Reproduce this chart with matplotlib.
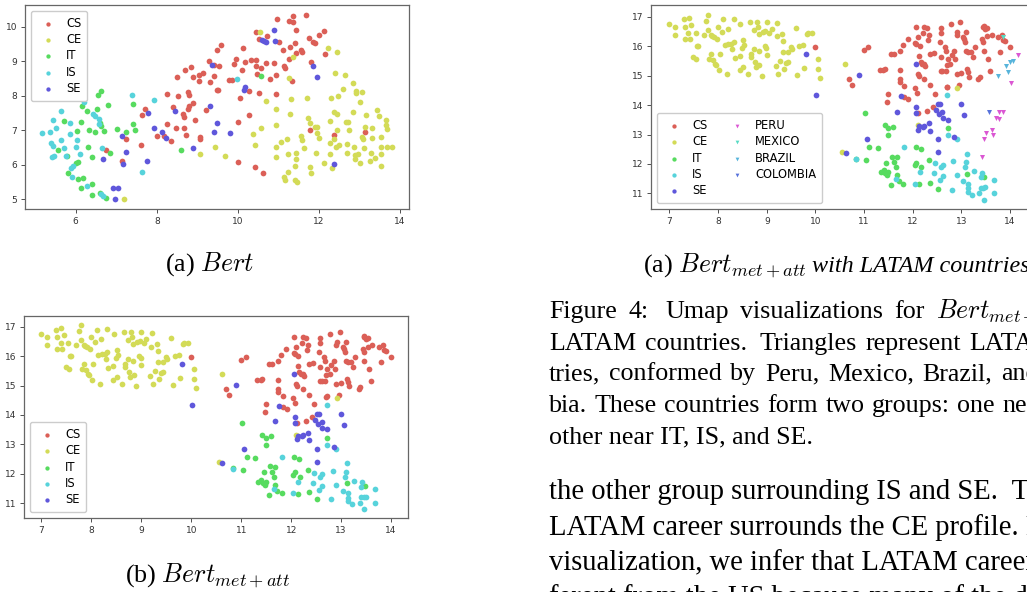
import numpy as np
import matplotlib
matplotlib.use('Agg')
import matplotlib.pyplot as plt

plt.rcParams['mathtext.fontset'] = 'cm'

W, H = 1027, 592

# ---------------- data: Bert ----------------
bert_cs = [(6.75, 6.42), (7.13, 6.11), (7.23, 6.76), (7.71, 7.63), (7.64, 7.44), (7.61, 6.57), (8.0, 6.84),
           (8.18, 6.84), (8.25, 8.05), (8.25, 7.18), (8.36, 6.69), (8.39, 7.68), (8.47, 7.08), (8.51, 8.53),
           (8.53, 7.99), (8.65, 7.46), (8.66, 7.39), (8.66, 7.07), (8.70, 8.76), (8.71, 6.86), (8.76, 8.12),
           (8.79, 8.02), (8.79, 7.70), (8.77, 7.62), (8.85, 8.84), (8.89, 7.80), (8.89, 8.55), (8.94, 7.30),
           (9.03, 8.43), (9.04, 8.61), (9.07, 6.81), (9.07, 6.76), (9.15, 8.67), (9.22, 7.59), (9.29, 9.01),
           (9.31, 8.40), (9.40, 8.89), (9.41, 8.57), (9.48, 9.32), (9.48, 8.17), (9.52, 8.17), (9.54, 8.86),
           (9.59, 9.48), (9.77, 8.47), (9.85, 8.46), (9.91, 8.92), (9.96, 9.08), (10.0, 7.25), (10.0, 6.09),
           (10.05, 7.95), (10.11, 8.75), (10.13, 9.37), (10.17, 8.97), (10.28, 7.45), (10.27, 8.14),
           (10.33, 9.03), (10.43, 5.93), (10.45, 9.03), (10.44, 8.86), (10.45, 9.84), (10.47, 8.63),
           (10.52, 8.09), (10.51, 9.65), (10.61, 5.77), (10.58, 8.80), (10.69, 8.94), (10.73, 9.74),
           (10.78, 8.50), (10.88, 8.94), (10.93, 8.60), (10.94, 8.05), (10.97, 10.22), (11.02, 9.55),
           (11.11, 9.32), (11.14, 8.86), (11.15, 8.81), (11.25, 10.16), (11.25, 9.08), (11.29, 9.40),
           (11.33, 8.44), (11.35, 10.31), (11.37, 10.15), (11.40, 9.54), (11.43, 9.90), (11.44, 9.23),
           (11.56, 9.32), (11.57, 9.28), (11.67, 10.35), (11.75, 9.66), (11.78, 7.01), (11.81, 8.97),
           (11.85, 9.57), (11.90, 9.52), (12.0, 9.76), (12.13, 9.88), (12.15, 9.21), (12.38, 6.86),
           (13.14, 6.94)]
bert_ce = [(10.54, 9.85), (11.35, 9.11), (12.23, 9.39), (12.44, 9.27), (11.25, 8.51), (11.31, 7.90),
           (11.29, 7.46), (10.70, 7.86), (10.57, 7.08), (10.38, 6.88), (10.41, 6.57), (10.93, 7.62),
           (10.94, 7.16), (11.07, 6.65), (10.94, 6.53), (10.94, 6.24), (11.21, 6.74), (11.23, 6.32),
           (11.14, 5.66), (11.16, 5.56), (11.23, 5.80), (11.40, 5.97), (11.41, 5.56), (11.46, 5.51),
           (11.43, 6.35), (11.43, 6.16), (11.55, 6.84), (11.59, 6.72), (11.63, 6.50), (11.70, 7.94),
           (11.74, 7.35), (11.78, 7.20), (11.78, 5.93), (11.80, 5.77), (11.90, 7.09), (11.95, 7.09),
           (11.95, 6.93), (11.93, 6.33), (11.99, 6.79), (12.13, 6.04), (12.26, 7.28), (12.26, 6.62),
           (12.27, 6.30), (12.30, 7.95), (12.33, 5.90), (12.36, 7.52), (12.38, 6.74), (12.40, 8.65),
           (12.41, 6.51), (12.44, 7.48), (12.44, 7.01), (12.46, 7.99), (12.49, 6.57), (12.59, 8.21),
           (12.63, 8.59), (12.66, 7.25), (12.69, 6.35), (12.69, 6.60), (12.71, 7.25), (12.75, 7.01),
           (12.83, 8.38), (12.83, 7.52), (12.86, 6.53), (12.89, 6.28), (12.90, 6.16), (12.92, 8.15),
           (12.92, 8.07), (12.97, 6.31), (13.0, 6.04), (13.01, 7.83), (13.06, 6.81), (13.07, 8.12),
           (13.10, 6.48), (13.08, 6.74), (13.14, 7.09), (13.16, 7.44), (13.25, 6.11), (13.28, 6.33),
           (13.30, 7.06), (13.30, 6.79), (13.37, 6.21), (13.44, 7.59), (13.48, 7.41), (13.53, 6.31),
           (13.54, 6.53), (13.54, 5.97), (13.54, 6.80), (13.65, 7.30), (13.65, 7.14), (13.67, 7.03),
           (13.67, 6.53), (13.80, 6.53), (9.44, 6.53), (9.67, 6.26), (9.07, 6.30), (7.18, 5.0)]
bert_it = [(6.13, 8.0), (6.62, 8.14), (6.54, 8.02), (6.79, 7.73), (6.16, 7.70), (6.52, 7.61), (6.29, 7.55),
           (5.70, 7.26), (6.12, 7.24), (6.60, 7.22), (6.62, 7.12), (6.69, 6.99), (6.33, 7.01), (6.47, 6.96),
           (6.04, 6.99), (7.02, 7.03), (7.23, 6.96), (7.42, 7.75), (7.42, 7.19), (7.46, 7.02), (6.31, 6.52),
           (5.57, 6.43), (5.78, 6.25), (6.41, 6.23), (6.85, 6.35), (6.02, 6.06), (6.06, 6.07), (5.81, 5.75),
           (6.05, 5.59), (6.19, 5.63), (6.12, 5.34), (6.41, 5.45), (6.39, 5.14), (6.60, 5.18), (6.75, 5.05),
           (8.60, 6.44), (10.56, 8.58)]
bert_is = [(5.17, 6.93), (5.37, 6.94), (5.63, 7.55), (5.45, 7.29), (5.51, 7.06), (5.65, 6.72), (5.70, 6.48),
           (5.38, 6.62), (5.43, 6.55), (5.41, 6.24), (5.46, 6.25), (5.75, 6.25), (5.86, 7.22), (5.87, 6.89),
           (5.89, 5.92), (5.90, 5.66), (5.94, 5.97), (6.0, 6.53), (6.04, 6.72), (6.11, 6.31), (6.21, 7.83),
           (6.27, 5.39), (6.42, 7.47), (6.48, 7.41), (6.58, 7.32), (6.58, 7.17), (6.64, 6.50), (6.62, 5.16),
           (6.68, 5.11), (7.38, 8.02), (7.63, 5.80), (7.92, 7.88), (9.99, 8.50), (5.93, 8.03)]
bert_se = [(6.93, 5.34), (7.05, 5.32), (6.97, 5.0), (7.16, 6.01), (7.13, 6.83), (7.24, 6.38), (6.67, 6.16),
           (7.75, 6.11), (7.78, 7.49), (7.94, 7.06), (8.12, 6.94), (8.22, 6.77), (8.45, 7.57), (8.89, 6.48),
           (9.31, 7.71), (9.37, 8.89), (9.42, 6.96), (9.49, 7.20), (9.81, 6.91), (10.14, 8.17), (10.18, 8.24),
           (10.59, 9.61), (10.65, 9.59), (10.69, 9.55), (10.88, 9.92), (10.92, 9.59), (11.86, 8.86),
           (11.95, 8.55), (12.38, 6.01)]

# ---------------- data: Bert met+att ----------------
att_cs = [(9.99, 15.96), (10.69, 14.88), (10.76, 14.68), (10.99, 15.87), (11.09, 15.96), (11.32, 15.18),
          (11.39, 15.18), (11.42, 15.21), (11.49, 14.38), (11.48, 14.09), (11.56, 15.74), (11.61, 15.72),
          (11.74, 15.84), (11.73, 15.20), (11.73, 14.90), (11.73, 14.79), (11.83, 14.66), (11.80, 16.03),
          (11.83, 14.28), (11.91, 14.21), (11.90, 16.26), (12.06, 16.65), (12.04, 14.58), (12.08, 14.42),
          (12.05, 16.12), (12.07, 16.07), (12.10, 16.31), (12.12, 14.98), (12.10, 15.07), (12.13, 15.68),
          (12.16, 15.47), (12.19, 15.38), (12.14, 16.00), (12.11, 13.72), (12.21, 16.46), (12.24, 16.64),
          (12.30, 16.63), (12.24, 14.88), (12.23, 15.41), (12.25, 15.34), (12.29, 13.81), (12.31, 16.21),
          (12.34, 16.38), (12.35, 15.75), (12.36, 14.68), (12.41, 13.94), (12.43, 15.78), (12.46, 14.37),
          (12.56, 16.14), (12.58, 16.63), (12.58, 16.46), (12.58, 15.62), (12.58, 15.17), (12.61, 15.17),
          (12.66, 15.96), (12.68, 15.85), (12.68, 15.15), (12.70, 14.60), (12.71, 14.63), (12.70, 15.37),
          (12.72, 15.58), (12.77, 15.41), (12.78, 16.74), (12.80, 15.70), (12.85, 15.83), (12.87, 15.55),
          (12.90, 15.05), (12.90, 16.38), (12.92, 16.47), (12.96, 14.68), (12.98, 16.83), (12.99, 15.10),
          (13.03, 16.30), (13.05, 16.26), (13.08, 16.15), (13.10, 16.47), (13.10, 15.83), (13.11, 15.24),
          (13.14, 15.79), (13.13, 15.13), (13.16, 14.97), (13.19, 15.79), (13.23, 15.62), (13.28, 15.98),
          (13.35, 14.88), (13.38, 14.95), (13.45, 16.65), (13.46, 16.69), (13.43, 16.26), (13.45, 16.13),
          (13.46, 15.83), (13.49, 16.60), (13.53, 16.63), (13.53, 16.33), (13.55, 15.58), (13.59, 15.17),
          (13.62, 16.38), (13.76, 16.31), (13.80, 15.81), (13.83, 16.37), (13.86, 16.20), (13.89, 16.19),
          (13.99, 15.96)]
att_ce = [(6.99, 16.74), (7.11, 16.65), (7.11, 16.38), (7.29, 16.91), (7.31, 16.65), (7.31, 16.25),
          (7.40, 16.97), (7.39, 16.46), (7.42, 16.25), (7.45, 16.72), (7.49, 15.63), (7.55, 15.57),
          (7.54, 16.46), (7.57, 16.0), (7.59, 16.0), (7.70, 16.38), (7.75, 16.86), (7.80, 17.06),
          (7.79, 16.56), (7.85, 16.38), (7.85, 15.74), (7.82, 15.55), (7.87, 16.34), (7.89, 15.52),
          (7.92, 16.30), (7.94, 15.41), (7.97, 16.26), (7.96, 15.36), (8.0, 16.66), (8.01, 15.18),
          (8.04, 15.72), (8.07, 16.48), (8.11, 16.91), (8.14, 16.04), (8.18, 15.04), (8.20, 16.60),
          (8.21, 16.07), (8.27, 16.09), (8.29, 15.89), (8.32, 16.94), (8.32, 16.15), (8.34, 15.61),
          (8.44, 15.66), (8.45, 16.77), (8.44, 15.20), (8.49, 15.95), (8.52, 16.22), (8.53, 16.04),
          (8.52, 15.29), (8.62, 15.05), (8.65, 16.83), (8.67, 15.72), (8.68, 15.64), (8.73, 15.92),
          (8.74, 16.56), (8.76, 15.46), (8.77, 15.30), (8.80, 16.83), (8.82, 16.64), (8.84, 16.41),
          (8.84, 15.83), (8.85, 15.36), (8.90, 15.0), (8.92, 16.47), (8.96, 16.01), (8.97, 16.52),
          (8.99, 15.95), (9.0, 16.82), (9.0, 15.70), (9.05, 16.46), (9.10, 16.60), (9.18, 15.32),
          (9.22, 16.79), (9.20, 16.33), (9.24, 15.07), (9.27, 15.50), (9.32, 16.43), (9.34, 16.18),
          (9.34, 15.80), (9.35, 15.22), (9.40, 15.44), (9.44, 15.47), (9.44, 15.80), (9.50, 15.98),
          (9.52, 15.92), (9.60, 16.63), (9.63, 15.02), (9.67, 16.01), (9.75, 16.04), (9.77, 15.27),
          (9.83, 16.42), (9.85, 16.45), (9.93, 16.46), (10.06, 15.56), (10.09, 14.93), (10.06, 15.23),
          (10.61, 15.41), (10.55, 12.41), (12.10, 13.32), (12.92, 14.57)]
att_it = [(11.02, 13.74), (11.42, 13.31), (11.50, 13.21), (11.60, 13.27), (11.50, 12.99), (11.11, 12.57),
          (11.28, 12.53), (11.03, 12.14), (10.84, 12.18), (11.58, 12.25), (11.68, 12.24), (11.45, 12.04),
          (11.62, 12.07), (11.65, 11.89), (11.34, 11.71), (11.40, 11.78), (11.44, 11.69), (11.48, 11.61),
          (11.50, 11.71), (11.67, 11.61), (11.56, 11.28), (11.71, 11.41), (11.81, 11.33), (12.06, 12.57),
          (12.16, 12.50), (12.04, 11.96), (12.07, 12.04), (12.18, 11.88), (12.13, 11.32), (12.34, 12.13),
          (12.36, 11.37), (12.51, 11.15), (12.72, 13.22), (13.11, 11.67), (13.47, 11.57)]
att_is = [(12.71, 14.34), (12.72, 12.97), (12.90, 12.84), (11.82, 12.58), (10.83, 12.16), (11.66, 11.48),
          (12.04, 11.33), (12.14, 11.71), (12.46, 12.02), (12.44, 11.68), (12.58, 11.90), (12.62, 11.98),
          (12.56, 11.45), (12.62, 11.59), (12.80, 11.13), (12.83, 12.10), (12.90, 11.61), (13.03, 11.42),
          (13.07, 11.90), (13.10, 12.07), (13.11, 12.35), (13.13, 11.33), (13.13, 11.17), (13.14, 11.06),
          (13.21, 10.96), (13.26, 11.76), (13.37, 11.00), (13.40, 11.56), (13.42, 11.70), (13.40, 11.19),
          (13.45, 11.20), (13.46, 10.79), (13.49, 11.22), (13.67, 11.00), (13.68, 11.47)]
att_se = [(9.81, 15.74), (10.02, 14.33), (10.90, 15.01), (10.62, 12.36), (11.05, 12.84), (11.68, 13.78),
          (11.76, 14.32), (12.06, 15.40), (12.07, 13.93), (12.07, 13.74), (12.11, 13.17), (12.13, 13.29),
          (12.21, 13.27), (12.24, 13.30), (12.34, 13.38), (12.36, 13.13), (12.47, 13.82), (12.51, 14.02),
          (12.56, 14.04), (12.54, 13.70), (12.61, 13.75), (12.62, 13.57), (12.72, 13.51), (12.51, 12.84),
          (12.51, 12.41), (12.85, 12.92), (12.99, 14.03), (13.05, 13.67)]

# LATAM countries (triangles)
peru = [(14.16, 15.69), (14.01, 14.75), (13.77, 13.76), (13.86, 13.76), (13.71, 13.57), (13.78, 13.53),
        (13.63, 13.17), (13.51, 13.04), (13.66, 12.99), (13.47, 12.86), (13.43, 12.22)]
mexico = [(13.86, 16.30)]
brazil = [(14.0, 15.47), (14.06, 15.49), (13.92, 15.33), (13.95, 15.13), (13.75, 15.0)]
colombia = [(13.57, 13.77)]

careers = ['CS', 'CE', 'IT', 'IS', 'SE']
career_colors = ['#db5f57', '#d3db57', '#57db5f', '#57d3db', '#5f57db']
countries = ['PERU', 'MEXICO', 'BRAZIL', 'COLOMBIA']
country_colors = ['#db57d3', '#57dbc4', '#57b4db', '#5772db']


def px_axes(fig, l, t, r, b):
    return fig.add_axes([l / W, 1 - b / H, (r - l) / W, (b - t) / H])


def style(ax, xlim, ylim, xticks, yticks):
    ax.set_xlim(*xlim)
    ax.set_ylim(*ylim)
    ax.set_xticks(xticks)
    ax.set_yticks(yticks)
    ax.tick_params(labelsize=6.5, length=3, width=0.6, colors='#333333', pad=2.5)
    for sp in ax.spines.values():
        sp.set_color('#666666')
        sp.set_linewidth(0.9)


def scatter_careers(ax, groups):
    for pts, name, c in zip(groups, careers, career_colors):
        a = np.array(pts)
        ax.scatter(a[:, 0], a[:, 1], s=17, color=c, linewidths=0, label=name)


fig = plt.figure(figsize=(W / 100, H / 100), dpi=100)

leg_kw = dict(fontsize=8.3, markerscale=0.75, handletextpad=0.55, borderpad=0.5,
              labelspacing=0.3, framealpha=1, edgecolor='#cccccc')

# (a) Bert
ax1 = px_axes(fig, 25, 5, 409, 209)
scatter_careers(ax1, [bert_cs, bert_ce, bert_it, bert_is, bert_se])
style(ax1, (4.75, 14.22), (4.72, 10.63), [6, 8, 10, 12, 14], [5, 6, 7, 8, 9, 10])
ax1.legend(loc='upper left', **leg_kw)

# (b) Bert met+att
ax3 = px_axes(fig, 24, 316, 408, 518)
scatter_careers(ax3, [att_cs, att_ce, att_it, att_is, att_se])
style(ax3, (6.65, 14.34), (10.49, 17.37), range(7, 15), range(11, 18))
ax3.legend(loc='lower left', **leg_kw)

# (a) with LATAM countries
ax2 = px_axes(fig, 651, 5, 1029, 209)
scatter_careers(ax2, [att_cs, att_ce, att_it, att_is, att_se])
for pts, name, c in zip([peru, mexico, brazil, colombia], countries, country_colors):
    a = np.array(pts)
    ax2.scatter(a[:, 0], a[:, 1], s=13, marker='v', color=c, linewidths=0, label=name)
style(ax2, (6.62, 14.39), (10.47, 17.4), range(7, 15), range(11, 18))
ax2.legend(loc='lower left', ncol=2, columnspacing=1.6, **leg_kw)

# ---------------- captions and page text ----------------
serif = 'Liberation Serif'
renderer = fig.canvas.get_renderer()


def ftext(x, y, s, **kw):
    kw.setdefault('family', serif)
    return fig.text(x / W, 1 - y / H, s, va='baseline', **kw)


def width(t):
    return t.get_window_extent(renderer=renderer).width


def justified(y, words, x0, k, xk, size, wide=()):
    # spread the words so that word k starts at xk, like a justified line
    items = [ftext(x0, y, w, size=size) for w in words]
    ws = [width(t) for t in items]
    weights = [1.5 if i in wide else 1.0 for i in range(k)]
    gap = (xk - x0 - sum(ws[:k])) / sum(weights)
    x = x0
    for i, t in enumerate(items):
        t.set_x(x / W)
        x += ws[i] + gap * (1.5 if i in wide else 1.0)


sub = 18.7
ftext(210, 271, r'(a) $Bert$', size=sub, ha='center')
ftext(208, 582, r'(b) $Bert_{met+att}$', size=sub, ha='center')
t = ftext(643, 272, r'(a) $Bert_{met+att}$', size=sub)
ftext(643 + width(t) + 5, 272, 'with LATAM countries', size=17.4, style='italic')

cap = 18.7
justified(318, ['Figure', '4:', 'Umap', 'visualizations', 'for', r'$Bert_{met+att}$', 'with'],
          549, 5, 936, cap, wide=(1,))
justified(350, ['LATAM', 'countries.', 'Triangles', 'represent', 'LATAM', 'coun-'],
          549, 4, 969, cap, wide=(1,))
justified(380, ['tries,', 'conformed', 'by', 'Peru,', 'Mexico,', 'Brazil,', 'and', 'Colom-'],
          549, 6, 1001, cap)
justified(412, ['bia.', 'These', 'countries', 'form', 'two', 'groups:', 'one', 'near'],
          549, 7, 1002, cap)
ftext(549, 443, 'other near IT, IS, and SE.', size=cap)

body = 20.6
body_lines = [
    (499, 'the other group surrounding IS and SE.  The'),
    (535, 'LATAM career surrounds the CE profile. From'),
    (570, 'visualization, we infer that LATAM careers'),
    (605, 'ferent from the US because many of the d'),
]
for y, s in body_lines:
    ftext(549, y, s, size=body)

fig.savefig('out.png', dpi=100)
